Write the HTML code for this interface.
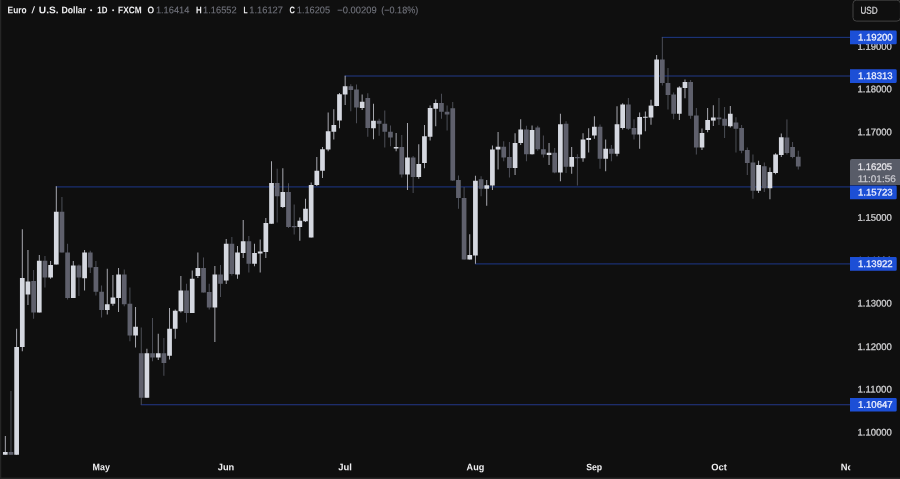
<!DOCTYPE html>
<html><head><meta charset="utf-8"><title>EURUSD</title>
<style>
html,body{margin:0;padding:0;background:#0f0f0f;}
body{width:900px;height:479px;position:relative;overflow:hidden;}
svg{position:absolute;left:0;top:0;display:block;}
text{font-family:"Liberation Sans",sans-serif;white-space:pre;}
</style></head><body>
<svg width="900" height="479" viewBox="0 0 900 479">
<defs><filter id="sb" x="0" y="0" width="900" height="479" filterUnits="userSpaceOnUse"><feGaussianBlur stdDeviation="0.35"/></filter></defs>
<g filter="url(#sb)">
<rect x="0" y="0" width="1.3" height="479" fill="#262626"/>
<rect x="0" y="477.5" width="900" height="1.5" fill="#272727"/>
<rect x="661.82" y="36.8" width="189.18" height="1.2" fill="#1c3075"/>
<rect x="344.64" y="75.4" width="506.36" height="1.2" fill="#1c3075"/>
<rect x="55.78" y="186.3" width="795.22" height="1.2" fill="#1c3075"/>
<rect x="474.91" y="263.3" width="376.09" height="1.2" fill="#1c3075"/>
<rect x="140.74" y="404.1" width="710.26" height="1.2" fill="#1c3075"/>
<rect x="4.85" y="436" width="0.9" height="18.75" fill="#b6b7bf"/>
<rect x="2.95" y="452" width="4.7" height="2.75" fill="#d5d8e0"/>
<rect x="10.51" y="391" width="0.9" height="63.75" fill="#52545d"/>
<rect x="8.61" y="452" width="4.7" height="2.75" fill="#5e616c"/>
<rect x="16.18" y="328.75" width="0.9" height="126" fill="#b6b7bf"/>
<rect x="14.28" y="347" width="4.7" height="107.75" fill="#d5d8e0"/>
<rect x="21.84" y="229.25" width="0.9" height="122" fill="#b6b7bf"/>
<rect x="19.94" y="278" width="4.7" height="69" fill="#d5d8e0"/>
<rect x="27.51" y="250" width="0.9" height="55" fill="#b6b7bf"/>
<rect x="25.61" y="281.5" width="4.7" height="13" fill="#d5d8e0"/>
<rect x="33.17" y="270" width="0.9" height="48.75" fill="#52545d"/>
<rect x="31.27" y="281" width="4.7" height="31.5" fill="#5e616c"/>
<rect x="38.83" y="255" width="0.9" height="57.5" fill="#b6b7bf"/>
<rect x="36.93" y="260.75" width="4.7" height="51.75" fill="#d5d8e0"/>
<rect x="44.5" y="256" width="0.9" height="31.5" fill="#52545d"/>
<rect x="42.6" y="260.75" width="4.7" height="16.75" fill="#5e616c"/>
<rect x="50.16" y="261" width="0.9" height="17.75" fill="#b6b7bf"/>
<rect x="48.26" y="265" width="4.7" height="12.5" fill="#d5d8e0"/>
<rect x="55.83" y="186.25" width="0.9" height="78.25" fill="#b6b7bf"/>
<rect x="53.93" y="211.75" width="4.7" height="52.75" fill="#d5d8e0"/>
<rect x="61.49" y="197" width="0.9" height="55.5" fill="#52545d"/>
<rect x="59.59" y="211.75" width="4.7" height="40.75" fill="#5e616c"/>
<rect x="67.15" y="243.75" width="0.9" height="55.75" fill="#52545d"/>
<rect x="65.25" y="252.5" width="4.7" height="45.5" fill="#5e616c"/>
<rect x="72.82" y="261" width="0.9" height="37" fill="#b6b7bf"/>
<rect x="70.92" y="265.5" width="4.7" height="32.5" fill="#d5d8e0"/>
<rect x="78.48" y="264.5" width="0.9" height="31.5" fill="#52545d"/>
<rect x="76.58" y="265.5" width="4.7" height="12" fill="#5e616c"/>
<rect x="84.15" y="250" width="0.9" height="40.5" fill="#b6b7bf"/>
<rect x="82.25" y="252.5" width="4.7" height="25.75" fill="#d5d8e0"/>
<rect x="89.81" y="250.75" width="0.9" height="22.25" fill="#52545d"/>
<rect x="87.91" y="252.5" width="4.7" height="15" fill="#5e616c"/>
<rect x="95.47" y="261" width="0.9" height="34.5" fill="#52545d"/>
<rect x="93.57" y="267" width="4.7" height="24.75" fill="#5e616c"/>
<rect x="101.14" y="285.5" width="0.9" height="32" fill="#52545d"/>
<rect x="99.24" y="291.75" width="4.7" height="18.25" fill="#5e616c"/>
<rect x="106.8" y="268.75" width="0.9" height="45.75" fill="#b6b7bf"/>
<rect x="104.9" y="304.25" width="4.7" height="5.75" fill="#d5d8e0"/>
<rect x="112.47" y="275" width="0.9" height="30.75" fill="#b6b7bf"/>
<rect x="110.57" y="297.5" width="4.7" height="6.25" fill="#d5d8e0"/>
<rect x="118.13" y="268" width="0.9" height="44" fill="#b6b7bf"/>
<rect x="116.23" y="274.5" width="4.7" height="23.5" fill="#d5d8e0"/>
<rect x="123.79" y="269.5" width="0.9" height="36.75" fill="#52545d"/>
<rect x="121.89" y="274.5" width="4.7" height="29.75" fill="#5e616c"/>
<rect x="129.46" y="287.5" width="0.9" height="53.75" fill="#52545d"/>
<rect x="127.56" y="303.75" width="4.7" height="31.75" fill="#5e616c"/>
<rect x="135.12" y="307" width="0.9" height="40.5" fill="#b6b7bf"/>
<rect x="133.22" y="326.75" width="4.7" height="8.75" fill="#d5d8e0"/>
<rect x="140.79" y="327.5" width="0.9" height="77.25" fill="#52545d"/>
<rect x="138.89" y="353.25" width="4.7" height="44.5" fill="#5e616c"/>
<rect x="146.45" y="348.75" width="0.9" height="49" fill="#b6b7bf"/>
<rect x="144.55" y="353.25" width="4.7" height="44.5" fill="#d5d8e0"/>
<rect x="152.11" y="318" width="0.9" height="43.25" fill="#52545d"/>
<rect x="150.21" y="353.25" width="4.7" height="4.25" fill="#5e616c"/>
<rect x="157.78" y="333.75" width="0.9" height="26.25" fill="#b6b7bf"/>
<rect x="155.88" y="353.25" width="4.7" height="4.25" fill="#d5d8e0"/>
<rect x="163.44" y="338" width="0.9" height="37.75" fill="#52545d"/>
<rect x="161.54" y="353.25" width="4.7" height="9.75" fill="#5e616c"/>
<rect x="169.11" y="308" width="0.9" height="51.5" fill="#b6b7bf"/>
<rect x="167.21" y="328.75" width="4.7" height="27" fill="#d5d8e0"/>
<rect x="174.77" y="309.5" width="0.9" height="29.25" fill="#b6b7bf"/>
<rect x="172.87" y="310.75" width="4.7" height="18" fill="#d5d8e0"/>
<rect x="180.43" y="276" width="0.9" height="36.5" fill="#b6b7bf"/>
<rect x="178.53" y="290.5" width="4.7" height="20.75" fill="#d5d8e0"/>
<rect x="186.1" y="283.75" width="0.9" height="38.75" fill="#52545d"/>
<rect x="184.2" y="290.5" width="4.7" height="22.5" fill="#5e616c"/>
<rect x="191.76" y="270.5" width="0.9" height="42.5" fill="#b6b7bf"/>
<rect x="189.86" y="278.75" width="4.7" height="34.25" fill="#d5d8e0"/>
<rect x="197.43" y="252.5" width="0.9" height="25.5" fill="#b6b7bf"/>
<rect x="195.53" y="268" width="4.7" height="8" fill="#d5d8e0"/>
<rect x="203.09" y="257.5" width="0.9" height="35" fill="#52545d"/>
<rect x="201.19" y="268" width="4.7" height="24.5" fill="#5e616c"/>
<rect x="208.75" y="283.75" width="0.9" height="25.75" fill="#52545d"/>
<rect x="206.85" y="292" width="4.7" height="15.5" fill="#5e616c"/>
<rect x="214.42" y="266" width="0.9" height="76" fill="#b6b7bf"/>
<rect x="212.52" y="274.5" width="4.7" height="33" fill="#d5d8e0"/>
<rect x="220.08" y="265" width="0.9" height="32" fill="#52545d"/>
<rect x="218.18" y="274.5" width="4.7" height="9.25" fill="#5e616c"/>
<rect x="225.75" y="239" width="0.9" height="45" fill="#b6b7bf"/>
<rect x="223.85" y="243.75" width="4.7" height="36.75" fill="#d5d8e0"/>
<rect x="231.41" y="237" width="0.9" height="38.5" fill="#52545d"/>
<rect x="229.51" y="243.75" width="4.7" height="30.25" fill="#5e616c"/>
<rect x="237.07" y="246" width="0.9" height="32.75" fill="#b6b7bf"/>
<rect x="235.17" y="252.5" width="4.7" height="22" fill="#d5d8e0"/>
<rect x="242.74" y="220" width="0.9" height="38" fill="#b6b7bf"/>
<rect x="240.84" y="241.25" width="4.7" height="11.75" fill="#d5d8e0"/>
<rect x="248.4" y="236" width="0.9" height="36.5" fill="#52545d"/>
<rect x="246.5" y="241.25" width="4.7" height="22.5" fill="#5e616c"/>
<rect x="254.07" y="243.75" width="0.9" height="22.5" fill="#b6b7bf"/>
<rect x="252.17" y="253" width="4.7" height="10.75" fill="#d5d8e0"/>
<rect x="259.73" y="239.5" width="0.9" height="33" fill="#b6b7bf"/>
<rect x="257.83" y="251.5" width="4.7" height="2" fill="#d5d8e0"/>
<rect x="265.39" y="218" width="0.9" height="40" fill="#b6b7bf"/>
<rect x="263.49" y="223" width="4.7" height="29" fill="#d5d8e0"/>
<rect x="271.06" y="161.25" width="0.9" height="62.5" fill="#b6b7bf"/>
<rect x="269.16" y="183" width="4.7" height="40.75" fill="#d5d8e0"/>
<rect x="276.72" y="168.75" width="0.9" height="53.75" fill="#52545d"/>
<rect x="274.82" y="183" width="4.7" height="13.25" fill="#5e616c"/>
<rect x="282.39" y="168.25" width="0.9" height="39.75" fill="#b6b7bf"/>
<rect x="280.49" y="192" width="4.7" height="15" fill="#d5d8e0"/>
<rect x="288.05" y="183.25" width="0.9" height="44.75" fill="#52545d"/>
<rect x="286.15" y="192" width="4.7" height="35" fill="#5e616c"/>
<rect x="293.71" y="204.5" width="0.9" height="30" fill="#52545d"/>
<rect x="291.81" y="226" width="4.7" height="1.25" fill="#5e616c"/>
<rect x="299.38" y="217.5" width="0.9" height="23.25" fill="#b6b7bf"/>
<rect x="297.48" y="220.75" width="4.7" height="6.25" fill="#d5d8e0"/>
<rect x="305.04" y="198.75" width="0.9" height="23.25" fill="#b6b7bf"/>
<rect x="303.14" y="208.75" width="4.7" height="12.5" fill="#d5d8e0"/>
<rect x="310.71" y="182.5" width="0.9" height="55" fill="#b6b7bf"/>
<rect x="308.81" y="185" width="4.7" height="52.5" fill="#d5d8e0"/>
<rect x="316.37" y="157" width="0.9" height="29" fill="#b6b7bf"/>
<rect x="314.47" y="170.75" width="4.7" height="14.25" fill="#d5d8e0"/>
<rect x="322.03" y="147" width="0.9" height="31" fill="#b6b7bf"/>
<rect x="320.13" y="149.25" width="4.7" height="21.5" fill="#d5d8e0"/>
<rect x="327.7" y="112.5" width="0.9" height="38.75" fill="#b6b7bf"/>
<rect x="325.8" y="131.25" width="4.7" height="18.25" fill="#d5d8e0"/>
<rect x="333.36" y="109.25" width="0.9" height="30.25" fill="#b6b7bf"/>
<rect x="331.46" y="125" width="4.7" height="6.75" fill="#d5d8e0"/>
<rect x="339.03" y="93" width="0.9" height="35.25" fill="#b6b7bf"/>
<rect x="337.13" y="94.25" width="4.7" height="26.25" fill="#d5d8e0"/>
<rect x="344.69" y="75.75" width="0.9" height="29.25" fill="#b6b7bf"/>
<rect x="342.79" y="86.25" width="4.7" height="8.25" fill="#d5d8e0"/>
<rect x="350.35" y="84.25" width="0.9" height="27" fill="#52545d"/>
<rect x="348.45" y="86.25" width="4.7" height="3.75" fill="#5e616c"/>
<rect x="356.02" y="84.5" width="0.9" height="38.75" fill="#52545d"/>
<rect x="354.12" y="89.5" width="4.7" height="18" fill="#5e616c"/>
<rect x="361.68" y="94.5" width="0.9" height="15.5" fill="#b6b7bf"/>
<rect x="359.78" y="101.75" width="4.7" height="6.25" fill="#d5d8e0"/>
<rect x="367.35" y="93.25" width="0.9" height="43.5" fill="#52545d"/>
<rect x="365.45" y="98" width="4.7" height="30" fill="#5e616c"/>
<rect x="373.01" y="103.75" width="0.9" height="35.5" fill="#b6b7bf"/>
<rect x="371.11" y="120.75" width="4.7" height="7.5" fill="#d5d8e0"/>
<rect x="378.67" y="118.75" width="0.9" height="17" fill="#52545d"/>
<rect x="376.77" y="120.75" width="4.7" height="3" fill="#5e616c"/>
<rect x="384.34" y="110.5" width="0.9" height="37" fill="#52545d"/>
<rect x="382.44" y="123.75" width="4.7" height="8" fill="#5e616c"/>
<rect x="390" y="125.5" width="0.9" height="20.75" fill="#52545d"/>
<rect x="388.1" y="131.75" width="4.7" height="5.75" fill="#5e616c"/>
<rect x="395.67" y="133" width="0.9" height="18.25" fill="#b6b7bf"/>
<rect x="393.77" y="147" width="4.7" height="1.5" fill="#d5d8e0"/>
<rect x="401.33" y="135" width="0.9" height="42.5" fill="#52545d"/>
<rect x="399.43" y="147" width="4.7" height="27.5" fill="#5e616c"/>
<rect x="406.99" y="123" width="0.9" height="67" fill="#b6b7bf"/>
<rect x="405.09" y="157.5" width="4.7" height="17" fill="#d5d8e0"/>
<rect x="412.66" y="156" width="0.9" height="37" fill="#52545d"/>
<rect x="410.76" y="157.5" width="4.7" height="19.5" fill="#5e616c"/>
<rect x="418.32" y="144.25" width="0.9" height="34.5" fill="#b6b7bf"/>
<rect x="416.42" y="164" width="4.7" height="13" fill="#d5d8e0"/>
<rect x="423.99" y="125" width="0.9" height="43.25" fill="#b6b7bf"/>
<rect x="422.09" y="136.25" width="4.7" height="26.75" fill="#d5d8e0"/>
<rect x="429.65" y="105.5" width="0.9" height="35" fill="#b6b7bf"/>
<rect x="427.75" y="108" width="4.7" height="28.75" fill="#d5d8e0"/>
<rect x="435.31" y="99.5" width="0.9" height="26.75" fill="#b6b7bf"/>
<rect x="433.41" y="103" width="4.7" height="5.75" fill="#d5d8e0"/>
<rect x="440.98" y="93.75" width="0.9" height="25" fill="#52545d"/>
<rect x="439.08" y="103" width="4.7" height="8.75" fill="#5e616c"/>
<rect x="446.64" y="105.5" width="0.9" height="25" fill="#52545d"/>
<rect x="444.74" y="111.75" width="4.7" height="2.75" fill="#5e616c"/>
<rect x="452.31" y="102" width="0.9" height="79" fill="#52545d"/>
<rect x="450.41" y="108.25" width="4.7" height="72.25" fill="#5e616c"/>
<rect x="457.97" y="175.5" width="0.9" height="33.25" fill="#52545d"/>
<rect x="456.07" y="180" width="4.7" height="18" fill="#5e616c"/>
<rect x="463.63" y="187" width="0.9" height="72.5" fill="#52545d"/>
<rect x="461.73" y="198" width="4.7" height="61.5" fill="#5e616c"/>
<rect x="469.3" y="234.25" width="0.9" height="25.25" fill="#b6b7bf"/>
<rect x="467.4" y="255" width="4.7" height="4.5" fill="#d5d8e0"/>
<rect x="474.96" y="175.75" width="0.9" height="88" fill="#b6b7bf"/>
<rect x="473.06" y="180.75" width="4.7" height="74.75" fill="#d5d8e0"/>
<rect x="480.63" y="176.25" width="0.9" height="20" fill="#52545d"/>
<rect x="478.73" y="179.25" width="4.7" height="9.5" fill="#5e616c"/>
<rect x="486.29" y="180" width="0.9" height="25.75" fill="#b6b7bf"/>
<rect x="484.39" y="185.25" width="4.7" height="3.5" fill="#d5d8e0"/>
<rect x="491.95" y="145.5" width="0.9" height="44.5" fill="#b6b7bf"/>
<rect x="490.05" y="149.5" width="4.7" height="36" fill="#d5d8e0"/>
<rect x="497.62" y="132" width="0.9" height="37.5" fill="#b6b7bf"/>
<rect x="495.72" y="146.75" width="4.7" height="2.75" fill="#d5d8e0"/>
<rect x="503.28" y="141.25" width="0.9" height="20" fill="#52545d"/>
<rect x="501.38" y="146.75" width="4.7" height="10.75" fill="#5e616c"/>
<rect x="508.95" y="142" width="0.9" height="35.5" fill="#52545d"/>
<rect x="507.05" y="157" width="4.7" height="11" fill="#5e616c"/>
<rect x="514.61" y="133.25" width="0.9" height="41.75" fill="#b6b7bf"/>
<rect x="512.71" y="143" width="4.7" height="25" fill="#d5d8e0"/>
<rect x="520.27" y="119.25" width="0.9" height="25.75" fill="#b6b7bf"/>
<rect x="518.37" y="129.5" width="4.7" height="13.5" fill="#d5d8e0"/>
<rect x="525.94" y="125.75" width="0.9" height="35.5" fill="#52545d"/>
<rect x="524.04" y="129.5" width="4.7" height="24.75" fill="#5e616c"/>
<rect x="531.6" y="125.5" width="0.9" height="29" fill="#b6b7bf"/>
<rect x="529.7" y="130" width="4.7" height="24.25" fill="#d5d8e0"/>
<rect x="537.27" y="125.75" width="0.9" height="25" fill="#52545d"/>
<rect x="535.37" y="127.5" width="4.7" height="21.75" fill="#5e616c"/>
<rect x="542.93" y="135.5" width="0.9" height="22" fill="#52545d"/>
<rect x="541.03" y="149.25" width="4.7" height="5.25" fill="#5e616c"/>
<rect x="548.59" y="143" width="0.9" height="22" fill="#b6b7bf"/>
<rect x="546.69" y="152.75" width="4.7" height="2.25" fill="#d5d8e0"/>
<rect x="554.26" y="148" width="0.9" height="25.25" fill="#52545d"/>
<rect x="552.36" y="152.75" width="4.7" height="19.75" fill="#5e616c"/>
<rect x="559.92" y="113.75" width="0.9" height="67.5" fill="#b6b7bf"/>
<rect x="558.02" y="124.25" width="4.7" height="48.25" fill="#d5d8e0"/>
<rect x="565.59" y="121.25" width="0.9" height="51.75" fill="#52545d"/>
<rect x="563.69" y="123.75" width="4.7" height="43" fill="#5e616c"/>
<rect x="571.25" y="147" width="0.9" height="26.75" fill="#b6b7bf"/>
<rect x="569.35" y="157" width="4.7" height="9.75" fill="#d5d8e0"/>
<rect x="576.91" y="154.25" width="0.9" height="31.25" fill="#52545d"/>
<rect x="575.01" y="157" width="4.7" height="1.25" fill="#5e616c"/>
<rect x="582.58" y="133.25" width="0.9" height="28.5" fill="#b6b7bf"/>
<rect x="580.68" y="139.5" width="4.7" height="18.75" fill="#d5d8e0"/>
<rect x="588.24" y="128.25" width="0.9" height="24.25" fill="#b6b7bf"/>
<rect x="586.34" y="138" width="4.7" height="2" fill="#d5d8e0"/>
<rect x="593.91" y="116.25" width="0.9" height="22.5" fill="#b6b7bf"/>
<rect x="592.01" y="126.75" width="4.7" height="8.75" fill="#d5d8e0"/>
<rect x="599.57" y="124.5" width="0.9" height="44.25" fill="#52545d"/>
<rect x="597.67" y="126.75" width="4.7" height="32" fill="#5e616c"/>
<rect x="605.23" y="139.5" width="0.9" height="31.75" fill="#b6b7bf"/>
<rect x="603.33" y="148.75" width="4.7" height="10" fill="#d5d8e0"/>
<rect x="610.9" y="145" width="0.9" height="16.25" fill="#52545d"/>
<rect x="609" y="148.75" width="4.7" height="5" fill="#5e616c"/>
<rect x="616.56" y="106.25" width="0.9" height="50" fill="#b6b7bf"/>
<rect x="614.66" y="124.25" width="4.7" height="29.5" fill="#d5d8e0"/>
<rect x="622.23" y="103.25" width="0.9" height="26.25" fill="#b6b7bf"/>
<rect x="620.33" y="104.5" width="4.7" height="23.5" fill="#d5d8e0"/>
<rect x="627.89" y="98" width="0.9" height="32" fill="#52545d"/>
<rect x="625.99" y="104.5" width="4.7" height="24.25" fill="#5e616c"/>
<rect x="633.55" y="119.25" width="0.9" height="20.25" fill="#52545d"/>
<rect x="631.65" y="128" width="4.7" height="6.5" fill="#5e616c"/>
<rect x="639.22" y="112.5" width="0.9" height="36.25" fill="#b6b7bf"/>
<rect x="637.32" y="117" width="4.7" height="17.5" fill="#d5d8e0"/>
<rect x="644.88" y="111.5" width="0.9" height="19.75" fill="#b6b7bf"/>
<rect x="642.98" y="116.75" width="4.7" height="1" fill="#d5d8e0"/>
<rect x="650.55" y="99.75" width="0.9" height="25" fill="#b6b7bf"/>
<rect x="648.65" y="105.6" width="4.7" height="11.9" fill="#d5d8e0"/>
<rect x="656.21" y="55" width="0.9" height="51.25" fill="#b6b7bf"/>
<rect x="654.31" y="59.5" width="4.7" height="46.5" fill="#d5d8e0"/>
<rect x="661.87" y="37" width="0.9" height="48.5" fill="#52545d"/>
<rect x="659.97" y="59.5" width="4.7" height="23.5" fill="#5e616c"/>
<rect x="667.54" y="68" width="0.9" height="41.5" fill="#52545d"/>
<rect x="665.64" y="83" width="4.7" height="12" fill="#5e616c"/>
<rect x="673.2" y="92.5" width="0.9" height="26.75" fill="#52545d"/>
<rect x="671.3" y="94.5" width="4.7" height="19.25" fill="#5e616c"/>
<rect x="678.87" y="86.25" width="0.9" height="33.75" fill="#b6b7bf"/>
<rect x="676.97" y="87.5" width="4.7" height="26.25" fill="#d5d8e0"/>
<rect x="684.53" y="79.5" width="0.9" height="18.75" fill="#b6b7bf"/>
<rect x="682.63" y="82" width="4.7" height="6" fill="#d5d8e0"/>
<rect x="690.19" y="80" width="0.9" height="38.75" fill="#52545d"/>
<rect x="688.29" y="82" width="4.7" height="33.75" fill="#5e616c"/>
<rect x="695.86" y="108" width="0.9" height="46.5" fill="#52545d"/>
<rect x="693.96" y="115.5" width="4.7" height="32" fill="#5e616c"/>
<rect x="701.52" y="128.5" width="0.9" height="21.5" fill="#b6b7bf"/>
<rect x="699.62" y="133" width="4.7" height="14.5" fill="#d5d8e0"/>
<rect x="707.19" y="108" width="0.9" height="24.25" fill="#b6b7bf"/>
<rect x="705.29" y="120" width="4.7" height="10" fill="#d5d8e0"/>
<rect x="712.85" y="105.25" width="0.9" height="20.75" fill="#b6b7bf"/>
<rect x="710.95" y="117.5" width="4.7" height="3.1" fill="#d5d8e0"/>
<rect x="718.51" y="98" width="0.9" height="27" fill="#52545d"/>
<rect x="716.61" y="117.5" width="4.7" height="1.75" fill="#5e616c"/>
<rect x="724.18" y="107" width="0.9" height="31" fill="#52545d"/>
<rect x="722.28" y="118.75" width="4.7" height="7" fill="#5e616c"/>
<rect x="729.84" y="106" width="0.9" height="21.5" fill="#b6b7bf"/>
<rect x="727.94" y="113.75" width="4.7" height="12.5" fill="#d5d8e0"/>
<rect x="735.51" y="117.25" width="0.9" height="35.25" fill="#52545d"/>
<rect x="733.61" y="122.5" width="4.7" height="6.25" fill="#5e616c"/>
<rect x="741.17" y="125" width="0.9" height="28.25" fill="#52545d"/>
<rect x="739.27" y="128" width="4.7" height="22.75" fill="#5e616c"/>
<rect x="746.83" y="147.5" width="0.9" height="27.5" fill="#52545d"/>
<rect x="744.93" y="150" width="4.7" height="13" fill="#5e616c"/>
<rect x="752.5" y="154.5" width="0.9" height="44.25" fill="#52545d"/>
<rect x="750.6" y="162.5" width="4.7" height="28.25" fill="#5e616c"/>
<rect x="758.16" y="160.75" width="0.9" height="32.25" fill="#b6b7bf"/>
<rect x="756.26" y="165" width="4.7" height="25.75" fill="#d5d8e0"/>
<rect x="763.83" y="162.5" width="0.9" height="29.5" fill="#52545d"/>
<rect x="761.93" y="166.25" width="4.7" height="22" fill="#5e616c"/>
<rect x="769.49" y="167.5" width="0.9" height="31.75" fill="#b6b7bf"/>
<rect x="767.59" y="172" width="4.7" height="16.25" fill="#d5d8e0"/>
<rect x="775.15" y="153.25" width="0.9" height="21" fill="#b6b7bf"/>
<rect x="773.25" y="154.5" width="4.7" height="18.5" fill="#d5d8e0"/>
<rect x="780.82" y="133.5" width="0.9" height="23.5" fill="#b6b7bf"/>
<rect x="778.92" y="137.25" width="4.7" height="17.75" fill="#d5d8e0"/>
<rect x="786.48" y="119.4" width="0.9" height="35.1" fill="#52545d"/>
<rect x="784.58" y="137.5" width="4.7" height="15.5" fill="#5e616c"/>
<rect x="792.15" y="142" width="0.9" height="16.25" fill="#52545d"/>
<rect x="790.25" y="147" width="4.7" height="10" fill="#5e616c"/>
<rect x="797.81" y="150.75" width="0.9" height="18.75" fill="#52545d"/>
<rect x="795.91" y="156.75" width="4.7" height="9.75" fill="#5e616c"/>
<text x="7.6" y="13.25" transform="rotate(0.05 7.6 13.25)" font-size="9.6" fill="#eeeef0" font-weight="bold" textLength="19" lengthAdjust="spacingAndGlyphs">Euro</text>
<text x="38.8" y="13.25" transform="rotate(0.05 38.8 13.25)" font-size="9.6" fill="#eeeef0" font-weight="bold" textLength="19.8" lengthAdjust="spacingAndGlyphs">U.S.</text>
<text x="61.4" y="13.25" transform="rotate(0.05 61.4 13.25)" font-size="9.6" fill="#eeeef0" font-weight="bold" textLength="24.7" lengthAdjust="spacingAndGlyphs">Dollar</text>
<text x="97.3" y="13.25" transform="rotate(0.05 97.3 13.25)" font-size="9.6" fill="#eeeef0" font-weight="bold" textLength="10.1" lengthAdjust="spacingAndGlyphs">1D</text>
<text x="118.1" y="13.25" transform="rotate(0.05 118.1 13.25)" font-size="9.6" fill="#eeeef0" font-weight="bold" textLength="23.5" lengthAdjust="spacingAndGlyphs">FXCM</text>
<text x="147.6" y="13.25" transform="rotate(0.05 147.6 13.25)" font-size="9.6" fill="#eeeef0" font-weight="bold" textLength="6.6" lengthAdjust="spacingAndGlyphs">O</text>
<text x="195.9" y="13.25" transform="rotate(0.05 195.9 13.25)" font-size="9.6" fill="#eeeef0" font-weight="bold" textLength="5.7" lengthAdjust="spacingAndGlyphs">H</text>
<text x="243.4" y="13.25" transform="rotate(0.05 243.4 13.25)" font-size="9.6" fill="#eeeef0" font-weight="bold" textLength="4.1" lengthAdjust="spacingAndGlyphs">L</text>
<text x="289.6" y="13.25" transform="rotate(0.05 289.6 13.25)" font-size="9.6" fill="#eeeef0" font-weight="bold" textLength="5.4" lengthAdjust="spacingAndGlyphs">C</text>
<text x="155.9" y="13.25" transform="rotate(0.05 155.9 13.25)" font-size="9.6" fill="#70727b" font-weight="normal" textLength="33.5" lengthAdjust="spacingAndGlyphs" stroke="#70727b" stroke-width="0.12">1.16414</text>
<text x="203.1" y="13.25" transform="rotate(0.05 203.1 13.25)" font-size="9.6" fill="#70727b" font-weight="normal" textLength="33.5" lengthAdjust="spacingAndGlyphs" stroke="#70727b" stroke-width="0.12">1.16552</text>
<text x="249.3" y="13.25" transform="rotate(0.05 249.3 13.25)" font-size="9.6" fill="#70727b" font-weight="normal" textLength="33.6" lengthAdjust="spacingAndGlyphs" stroke="#70727b" stroke-width="0.12">1.16127</text>
<text x="296.8" y="13.25" transform="rotate(0.05 296.8 13.25)" font-size="9.6" fill="#70727b" font-weight="normal" textLength="33.2" lengthAdjust="spacingAndGlyphs" stroke="#70727b" stroke-width="0.12">1.16205</text>
<text x="337.3" y="13.25" transform="rotate(0.05 337.3 13.25)" font-size="9.6" fill="#70727b" font-weight="normal" textLength="39.3" lengthAdjust="spacingAndGlyphs" stroke="#70727b" stroke-width="0.12">−0.00209</text>
<text x="381.3" y="13.25" transform="rotate(0.05 381.3 13.25)" font-size="9.6" fill="#70727b" font-weight="normal" textLength="36.9" lengthAdjust="spacingAndGlyphs" stroke="#70727b" stroke-width="0.12">(−0.18%)</text>
<circle cx="91.1" cy="10.2" r="1" fill="#e0e0e2"/><circle cx="113.1" cy="10.2" r="1" fill="#e0e0e2"/>
<text x="31.5" y="13.25" transform="rotate(0.05 31.5 13.25)" font-size="9.6" fill="#eeeef0" font-weight="normal" textLength="3.5" lengthAdjust="spacingAndGlyphs">/</text>
<text x="857.5" y="49.7" transform="rotate(0.05 857.5 49.7)" font-size="9.6" fill="#d2d2d4" font-weight="normal" textLength="34.3" lengthAdjust="spacingAndGlyphs" stroke="#d2d2d4" stroke-width="0.25">1.19000</text>
<text x="857.5" y="92.3" transform="rotate(0.05 857.5 92.3)" font-size="9.6" fill="#d2d2d4" font-weight="normal" textLength="34.3" lengthAdjust="spacingAndGlyphs" stroke="#d2d2d4" stroke-width="0.25">1.18000</text>
<text x="857.5" y="135.2" transform="rotate(0.05 857.5 135.2)" font-size="9.6" fill="#d2d2d4" font-weight="normal" textLength="34.3" lengthAdjust="spacingAndGlyphs" stroke="#d2d2d4" stroke-width="0.25">1.17000</text>
<text x="857.5" y="178" transform="rotate(0.05 857.5 178)" font-size="9.6" fill="#d2d2d4" font-weight="normal" textLength="34.3" lengthAdjust="spacingAndGlyphs" stroke="#d2d2d4" stroke-width="0.25">1.16000</text>
<text x="857.5" y="220.7" transform="rotate(0.05 857.5 220.7)" font-size="9.6" fill="#d2d2d4" font-weight="normal" textLength="34.3" lengthAdjust="spacingAndGlyphs" stroke="#d2d2d4" stroke-width="0.25">1.15000</text>
<text x="857.5" y="263.5" transform="rotate(0.05 857.5 263.5)" font-size="9.6" fill="#d2d2d4" font-weight="normal" textLength="34.3" lengthAdjust="spacingAndGlyphs" stroke="#d2d2d4" stroke-width="0.25">1.14000</text>
<text x="857.5" y="306.5" transform="rotate(0.05 857.5 306.5)" font-size="9.6" fill="#d2d2d4" font-weight="normal" textLength="34.3" lengthAdjust="spacingAndGlyphs" stroke="#d2d2d4" stroke-width="0.25">1.13000</text>
<text x="857.5" y="350" transform="rotate(0.05 857.5 350)" font-size="9.6" fill="#d2d2d4" font-weight="normal" textLength="34.3" lengthAdjust="spacingAndGlyphs" stroke="#d2d2d4" stroke-width="0.25">1.12000</text>
<text x="857.5" y="392.5" transform="rotate(0.05 857.5 392.5)" font-size="9.6" fill="#d2d2d4" font-weight="normal" textLength="34.3" lengthAdjust="spacingAndGlyphs" stroke="#d2d2d4" stroke-width="0.25">1.11000</text>
<text x="857.5" y="435.5" transform="rotate(0.05 857.5 435.5)" font-size="9.6" fill="#d2d2d4" font-weight="normal" textLength="34.3" lengthAdjust="spacingAndGlyphs" stroke="#d2d2d4" stroke-width="0.25">1.10000</text>
<path d="M850 30.6 h45.4 a1.3 1.3 0 0 1 1.3 1.3 v11.1 a1.3 1.3 0 0 1 -1.3 1.3 h-45.4 z" fill="#1f4fd6"/>
<text x="858" y="40.5" transform="rotate(0.05 858 40.5)" font-size="9.6" fill="#eef2ff" font-weight="normal" textLength="34.6" lengthAdjust="spacingAndGlyphs" stroke="#eef2ff" stroke-width="0.25">1.19200</text>
<path d="M850 69.2 h45.4 a1.3 1.3 0 0 1 1.3 1.3 v11.1 a1.3 1.3 0 0 1 -1.3 1.3 h-45.4 z" fill="#1f4fd6"/>
<text x="858" y="79.1" transform="rotate(0.05 858 79.1)" font-size="9.6" fill="#eef2ff" font-weight="normal" textLength="34.6" lengthAdjust="spacingAndGlyphs" stroke="#eef2ff" stroke-width="0.25">1.18313</text>
<path d="M850 185.5 h45.4 a1.3 1.3 0 0 1 1.3 1.3 v11.1 a1.3 1.3 0 0 1 -1.3 1.3 h-45.4 z" fill="#1f4fd6"/>
<text x="858" y="195.4" transform="rotate(0.05 858 195.4)" font-size="9.6" fill="#eef2ff" font-weight="normal" textLength="34.6" lengthAdjust="spacingAndGlyphs" stroke="#eef2ff" stroke-width="0.25">1.15723</text>
<path d="M850 257.1 h45.4 a1.3 1.3 0 0 1 1.3 1.3 v11.1 a1.3 1.3 0 0 1 -1.3 1.3 h-45.4 z" fill="#1f4fd6"/>
<text x="858" y="267" transform="rotate(0.05 858 267)" font-size="9.6" fill="#eef2ff" font-weight="normal" textLength="34.6" lengthAdjust="spacingAndGlyphs" stroke="#eef2ff" stroke-width="0.25">1.13922</text>
<path d="M850 397.9 h45.4 a1.3 1.3 0 0 1 1.3 1.3 v11.1 a1.3 1.3 0 0 1 -1.3 1.3 h-45.4 z" fill="#1f4fd6"/>
<text x="858" y="407.8" transform="rotate(0.05 858 407.8)" font-size="9.6" fill="#eef2ff" font-weight="normal" textLength="34.6" lengthAdjust="spacingAndGlyphs" stroke="#eef2ff" stroke-width="0.25">1.10647</text>
<path d="M850 161 a2 2 0 0 1 2 -2 h48 v26.1 h-50 z" fill="#595b67"/>
<text x="857.7" y="169.9" transform="rotate(0.05 857.7 169.9)" font-size="9.6" fill="#e6e6ea" font-weight="normal" textLength="34.5" lengthAdjust="spacingAndGlyphs" stroke="#e6e6ea" stroke-width="0.25">1.16205</text>
<text x="857.7" y="181.9" transform="rotate(0.05 857.7 181.9)" font-size="9.6" fill="#c6c7ce" font-weight="normal" textLength="38.1" lengthAdjust="spacingAndGlyphs" stroke="#c6c7ce" stroke-width="0.25">11:01:56</text>
<text x="92.6" y="470.3" transform="rotate(0.05 92.6 470.3)" font-size="9.4" fill="#eeeef0" font-weight="bold" textLength="17.3" lengthAdjust="spacingAndGlyphs">May</text>
<text x="217.8" y="470.3" transform="rotate(0.05 217.8 470.3)" font-size="9.4" fill="#eeeef0" font-weight="bold" textLength="16.5" lengthAdjust="spacingAndGlyphs">Jun</text>
<text x="338.2" y="470.3" transform="rotate(0.05 338.2 470.3)" font-size="9.4" fill="#eeeef0" font-weight="bold" textLength="13.6" lengthAdjust="spacingAndGlyphs">Jul</text>
<text x="466.6" y="470.3" transform="rotate(0.05 466.6 470.3)" font-size="9.4" fill="#eeeef0" font-weight="bold" textLength="17.6" lengthAdjust="spacingAndGlyphs">Aug</text>
<text x="586.2" y="470.3" transform="rotate(0.05 586.2 470.3)" font-size="9.4" fill="#eeeef0" font-weight="bold" textLength="16" lengthAdjust="spacingAndGlyphs">Sep</text>
<text x="711.2" y="470.3" transform="rotate(0.05 711.2 470.3)" font-size="9.4" fill="#eeeef0" font-weight="bold" textLength="15.6" lengthAdjust="spacingAndGlyphs">Oct</text>
<clipPath id="cn"><rect x="830" y="455" width="20.3" height="24"/></clipPath>
<text x="840.8" y="470.3" transform="rotate(0.05 840.8 470.3)" font-size="9.4" fill="#eeeef0" font-weight="bold" textLength="17.7" lengthAdjust="spacingAndGlyphs" clip-path="url(#cn)">Nov</text>
<rect x="853" y="0.2" width="47.4" height="20.9" rx="3.5" ry="3.5" fill="none" stroke="#424242" stroke-width="1"/>
<text x="860.4" y="13.7" transform="rotate(0.05 860.4 13.7)" font-size="10" fill="#cfcfd1" font-weight="normal" textLength="17.2" lengthAdjust="spacingAndGlyphs" stroke="#cfcfd1" stroke-width="0.3">USD</text>
</g>
</svg>
</body></html>
